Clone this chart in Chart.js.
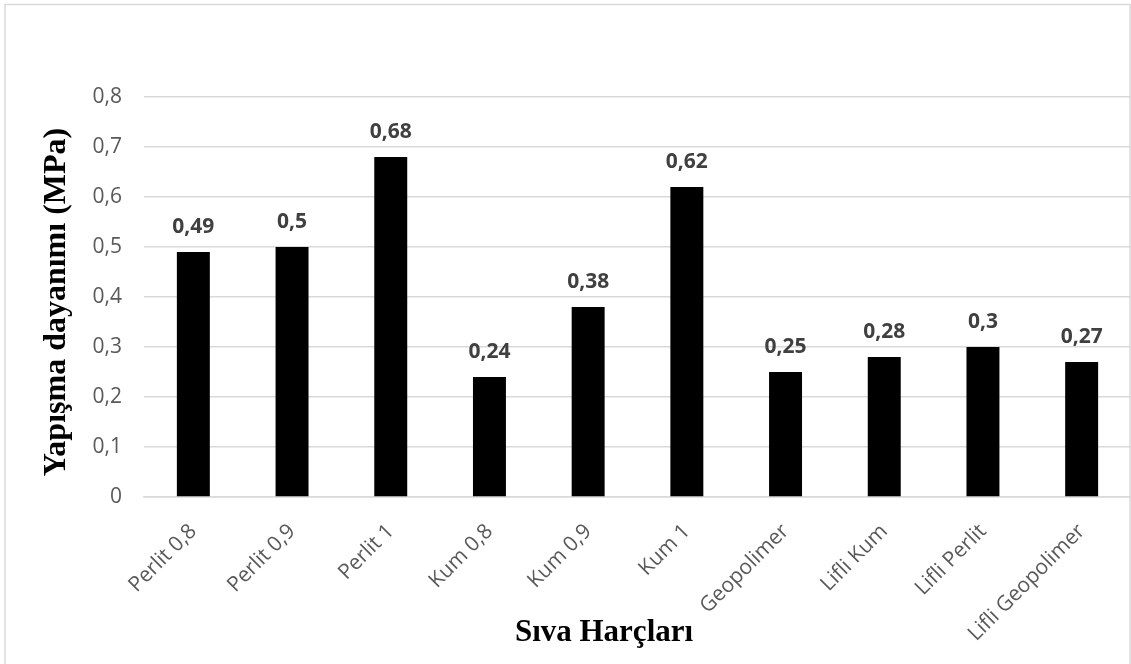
<!DOCTYPE html>
<html>
<head>
<meta charset="utf-8">
<script src="https://cdn.jsdelivr.net/npm/chart.js@4.4.1/dist/chart.umd.min.js"></script>
<style>
  html, body { margin: 0; padding: 0; background: #fff; }
  #wrap { position: relative; width: 1131px; height: 664px; }
</style>
</head>
<body>
<div id="wrap"><canvas id="c" width="1131" height="664"></canvas></div>
<script>
// Adhesion strength of the plaster mortars
const categories = ['Perlit 0,8', 'Perlit 0,9', 'Perlit 1', 'Kum 0,8', 'Kum 0,9', 'Kum 1',
                    'Geopolimer', 'Lifli Kum', 'Lifli Perlit', 'Lifli Geopolimer'];
const strengthValues = [0.49, 0.5, 0.68, 0.24, 0.38, 0.62, 0.25, 0.28, 0.3, 0.27];
const yTicks = [0, 0.1, 0.2, 0.3, 0.4, 0.5, 0.6, 0.7, 0.8];
const yTitle = 'Yapışma dayanımı (MPa)';
const xTitle = 'Sıva Harçları';

const fmt = v => String(v).replace('.', ',');

// frame around the chart, plus value labels and axis titles
const decorations = {
  id: 'decorations',
  beforeDraw(chart) {
    const ctx = chart.ctx;
    ctx.save();
    ctx.strokeStyle = '#d9d9d9';
    ctx.lineWidth = 1.5;
    ctx.beginPath();
    ctx.moveTo(5, 670);
    ctx.lineTo(5, 4.5);
    ctx.lineTo(1130, 4.5);
    ctx.lineTo(1130, 670);
    ctx.stroke();
    ctx.restore();
  },
  afterDatasetsDraw(chart) {
    const ctx = chart.ctx;
    const meta = chart.getDatasetMeta(0);
    ctx.save();
    ctx.fillStyle = '#404040';
    ctx.font = 'bold 21px "Open Sans"';
    ctx.textAlign = 'center';
    ctx.textBaseline = 'middle';
    meta.data.forEach((bar, i) => {
      ctx.fillText(fmt(strengthValues[i]), bar.x, bar.y - 25);
    });

    ctx.fillStyle = '#000';
    ctx.font = 'bold 31px "Liberation Serif"';
    ctx.textBaseline = 'alphabetic';
    ctx.fillText(xTitle, 604, 641);

    const area = chart.chartArea;
    ctx.font = 'bold 32px "Liberation Serif"';
    ctx.translate(65, (area.top + area.bottom) / 2 + 5);
    ctx.rotate(-Math.PI / 2);
    ctx.fillText(yTitle, 0, 0);
    ctx.restore();
  }
};

new Chart(document.getElementById('c'), {
  type: 'bar',
  data: {
    labels: categories,
    datasets: [{
      data: strengthValues,
      backgroundColor: '#000000',
      borderWidth: 0,
      categoryPercentage: 1,
      barPercentage: 0.334
    }]
  },
  options: {
    responsive: false,
    animation: false,
    layout: { padding: { left: 0, right: 0, top: 97, bottom: 0 } },
    plugins: { legend: { display: false }, tooltip: { enabled: false } },
    scales: {
      y: {
        min: 0,
        max: 0.8,
        afterFit(scale) { scale.width = 144; },
        afterBuildTicks(scale) { scale.ticks = yTicks.map(v => ({ value: v })); },
        border: { display: false },
        grid: { color: '#d9d9d9', lineWidth: 1.5, drawTicks: false },
        ticks: {
          color: '#595959',
          font: { family: '"Open Sans"', size: 21 },
          padding: 22,
          callback: v => fmt(v)
        }
      },
      x: {
        afterFit(scale) { scale.height = 664 - 497; },
        border: { display: true, color: '#d9d9d9', width: 1.5 },
        grid: { display: false, drawTicks: false },
        ticks: {
          color: '#595959',
          font: { family: '"Open Sans"', size: 21 },
          minRotation: 45,
          maxRotation: 45,
          padding: 22,
          autoSkip: false
        }
      }
    }
  },
  plugins: [decorations]
});
</script>
</body>
</html>
